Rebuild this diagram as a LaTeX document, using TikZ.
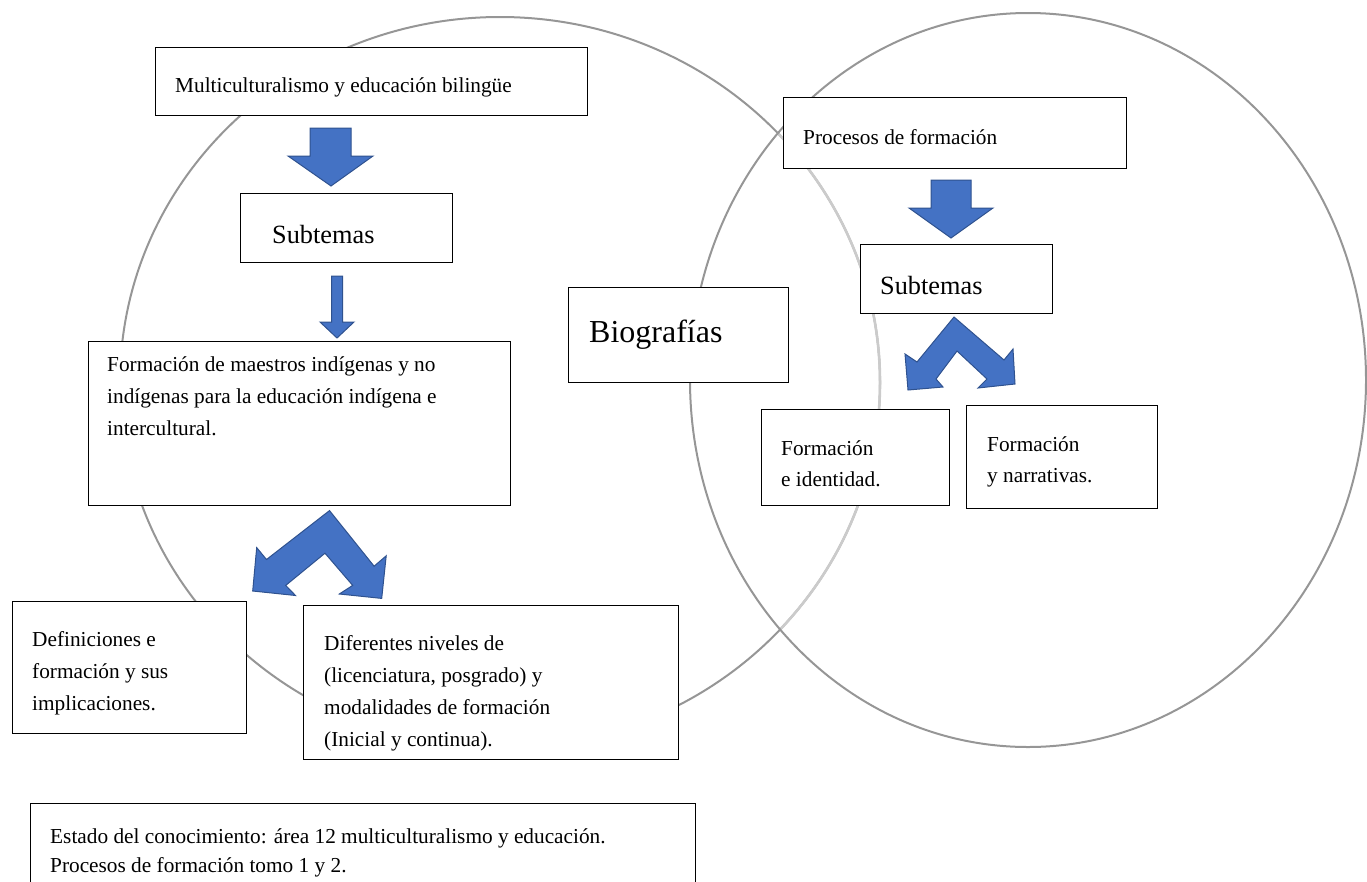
\documentclass[tikz,border=0pt]{standalone}
\usepackage{fontspec}
\setmainfont{Liberation Serif}
\definecolor{arrowblue}{HTML}{4472C4}
\definecolor{arrowedge}{HTML}{2F528F}
\definecolor{ringgray}{HTML}{969696}
\definecolor{ringlight}{HTML}{CBCBCB}
\tikzset{
  box/.style={draw=black, line width=1.2pt, fill=white, inner sep=0pt, anchor=north west},
  txt/.style={inner sep=0pt, anchor=base west, align=left, font=\fontsize{21.3}{32}\selectfont},
  blk/.style={fill=arrowblue, draw=arrowedge, line width=1pt, line join=miter},
  ring/.style={draw=ringgray, line width=2pt},
  ringl/.style={draw=ringlight, line width=2.6pt}
}
\begin{document}
\begin{tikzpicture}[x=1pt,y=-1pt]
\useasboundingbox (0,0) rectangle (1367,881);
% circles
\draw[ring] (500,382.5) ellipse [x radius=380pt, y radius=365.5pt];
\begin{scope}
  \clip (1028,380) ellipse [x radius=338pt, y radius=367pt];
  \draw[ringl] (500,382.5) ellipse [x radius=380pt, y radius=365.5pt];
\end{scope}
\draw[ring] (1028,380) ellipse [x radius=338pt, y radius=367pt];

% boxes
\node[box, minimum width=432pt, minimum height=68pt] (multi) at (155,47) {};
\node[box, minimum width=212pt, minimum height=69pt] (subL) at (240,193) {};
\node[box, minimum width=422pt, minimum height=164pt] (form) at (88,341) {};
\node[box, minimum width=234pt, minimum height=132pt] (defs) at (12,601) {};
\node[box, minimum width=375pt, minimum height=154pt] (dif) at (303,605) {};
\node[box, minimum width=665pt, minimum height=100pt] (estado) at (30,803) {};
\node[box, minimum width=343pt, minimum height=71pt] (proc) at (783,97) {};
\node[box, minimum width=192pt, minimum height=69pt] (subR) at (860,244) {};
\node[box, minimum width=220pt, minimum height=95pt] (bio) at (568,287) {};
\node[box, minimum width=188pt, minimum height=96pt] (fid) at (761,409) {};
\node[box, minimum width=191pt, minimum height=103pt] (fnar) at (966,405) {};

% texts (base anchor = baseline of the last line)
\node[txt] (multiT) at (175,92) {Multiculturalismo y educación bilingüe};
\node[txt, font=\fontsize{26.3}{32}\selectfont] (subLT) at (272,243) {Subtemas};
\node[txt] (formT) at (107,435) {Formación de maestros indígenas y no\\indígenas para la educación indígena e\\intercultural.};
\node[txt] (defsT) at (32,710) {Definiciones e\\formación y sus\\implicaciones.};
\node[txt] (difT) at (324,746) {Diferentes niveles de\\(licenciatura, posgrado) y\\modalidades de formación\\(Inicial y continua).};
\node[txt, font=\fontsize{21.3}{29}\selectfont] (estadoT) at (50,872) {Estado del conocimiento: área 12 multiculturalismo y educación.\\Procesos de formación tomo 1 y 2.};
\node[txt] (procT) at (803,144) {Procesos de formación};
\node[txt, font=\fontsize{26.3}{32}\selectfont] (subRT) at (880,294) {Subtemas};
\node[txt, font=\fontsize{32}{38}\selectfont] (bioT) at (589,342) {Biografías};
\node[txt, font=\fontsize{21.3}{31.6}\selectfont] (fidT) at (781,486.6) {Formación\\e identidad.};
\node[txt, font=\fontsize{21.3}{31}\selectfont] (fnarT) at (987,482) {Formación\\y narrativas.};

% block arrows
\draw[blk] (310,128) -- (351,128) -- (351,156) -- (373,156) -- (331,186) -- (288,156) -- (310,156) -- cycle;
\draw[blk] (331.5,276) -- (342.5,276) -- (342.5,322) -- (354,322) -- (337,338) -- (320,322) -- (331.5,322) -- cycle;
\draw[blk] (931,180) -- (971,180) -- (971,208) -- (993,208) -- (951,238) -- (909,208) -- (931,208) -- cycle;
% chevron double arrows
\draw[blk] (329.5,510.6) -- (374.1,566.2) -- (386.2,555.8) -- (381.7,598.4) -- (339.3,594) -- (352.7,585.4)
  -- (325,553.2) -- (285.7,585.4) -- (295.5,595.5) -- (252.7,591) -- (256.7,547.6) -- (266.5,559.5) -- cycle;
\draw[blk] (954,317) -- (1004,360) -- (1013,349) -- (1015,384) -- (978,388) -- (987,379)
  -- (957,351) -- (936,379) -- (943,387) -- (908,390) -- (905,354) -- (917,362) -- cycle;
\end{tikzpicture}
\end{document}
